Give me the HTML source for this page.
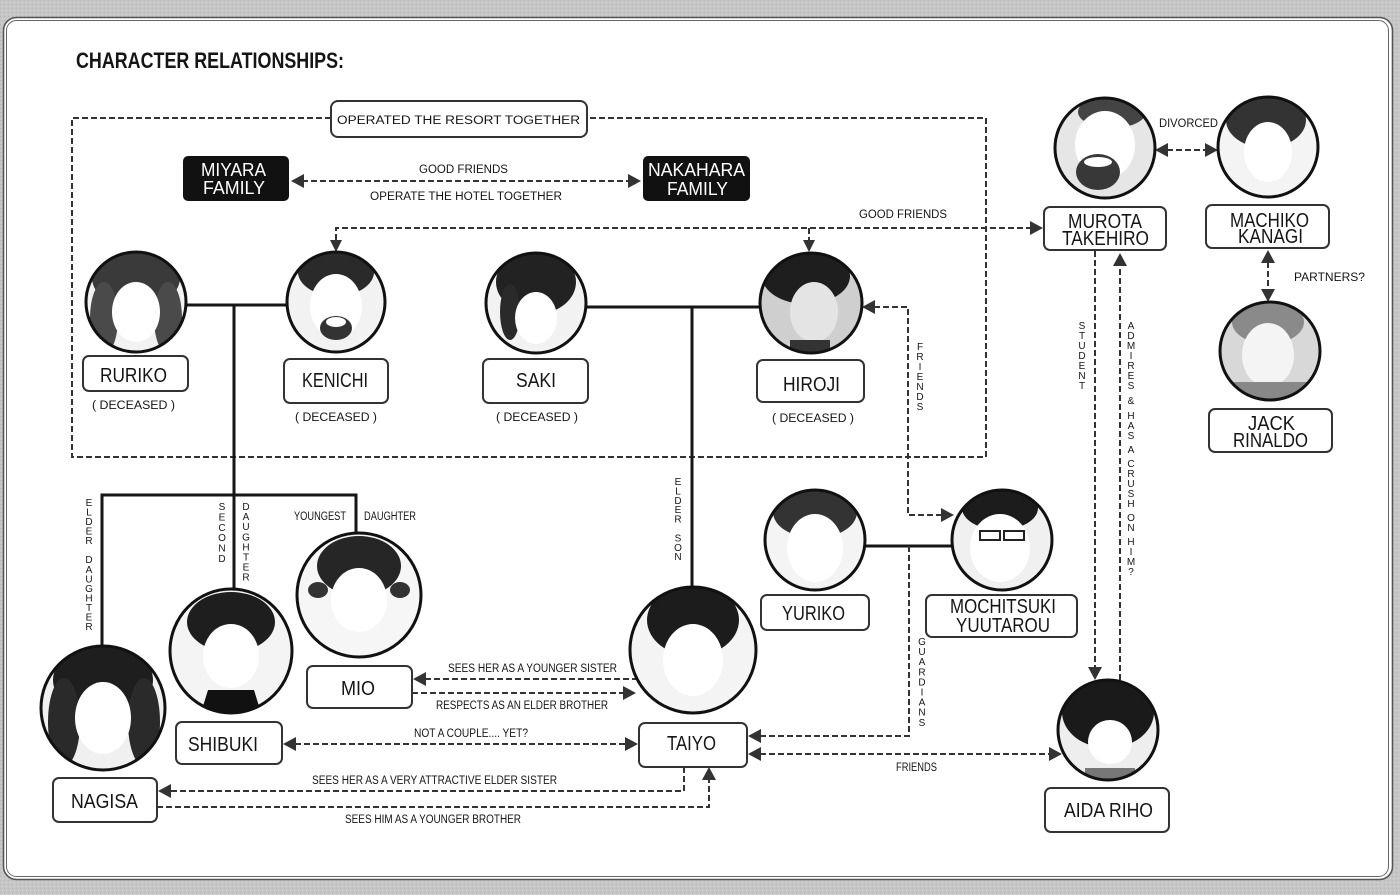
<!DOCTYPE html>
<html><head><meta charset="utf-8">
<style>
html,body{margin:0;padding:0;background:#c4c4c4;}
svg{display:block;}
text{font-family:"Liberation Sans",sans-serif;fill:#151515;}
.nm{font-size:20px;}
.sm{font-size:11.5px;}
.vt{font-size:10px;text-anchor:middle;}
.box{fill:#fff;stroke:#333;stroke-width:2;}
.dl{fill:none;stroke:#333;stroke-width:2;stroke-dasharray:6 3;}
.sl{fill:none;stroke:#161616;stroke-width:3;}
.ah{fill:#333;}
.pc{fill:none;stroke:#111;stroke-width:3;}
</style></head>
<body>
<svg width="1400" height="895" viewBox="0 0 1400 895" xmlns="http://www.w3.org/2000/svg">
<defs>
<pattern id="nz" width="4" height="4" patternUnits="userSpaceOnUse">
<rect width="4" height="4" fill="#c6c6c6"/><rect x="0" y="0" width="1" height="1" fill="#b4b4b4"/><rect x="2" y="2" width="1" height="1" fill="#d4d4d4"/>
</pattern>
<clipPath id="c1"><ellipse cx="136" cy="302" rx="50" ry="50"/></clipPath>
<clipPath id="c2"><ellipse cx="336" cy="302" rx="49" ry="50"/></clipPath>
<clipPath id="c3"><ellipse cx="536" cy="303" rx="50" ry="50"/></clipPath>
<clipPath id="c4"><ellipse cx="811" cy="303" rx="51" ry="50"/></clipPath>
<clipPath id="c5"><ellipse cx="1105" cy="148" rx="50" ry="50"/></clipPath>
<clipPath id="c6"><ellipse cx="1268" cy="147" rx="50" ry="50"/></clipPath>
<clipPath id="c7"><ellipse cx="1270" cy="351" rx="50" ry="49"/></clipPath>
<clipPath id="c8"><ellipse cx="815" cy="540" rx="50" ry="50"/></clipPath>
<clipPath id="c9"><ellipse cx="1002" cy="540" rx="50" ry="50"/></clipPath>
<clipPath id="c10"><ellipse cx="1108" cy="730" rx="50" ry="50"/></clipPath>
<clipPath id="c11"><ellipse cx="693" cy="650" rx="63" ry="63"/></clipPath>
<clipPath id="c12"><ellipse cx="103" cy="708" rx="62" ry="62"/></clipPath>
<clipPath id="c13"><ellipse cx="231" cy="651" rx="61" ry="62"/></clipPath>
<clipPath id="c14"><ellipse cx="359" cy="595" rx="62" ry="62"/></clipPath>
</defs>

<!-- background & panel -->
<rect width="1400" height="895" fill="url(#nz)"/>
<rect x="3.5" y="17.5" width="1389" height="862" rx="13" fill="#fff" stroke="#555" stroke-width="1.6"/>
<rect x="6.5" y="20.5" width="1382" height="856" rx="10" fill="none" stroke="#666" stroke-width="1"/>

<!-- title -->
<text x="76" y="68" font-size="22" font-weight="bold" textLength="268" lengthAdjust="spacingAndGlyphs">CHARACTER RELATIONSHIPS:</text>

<!-- resort dashed rect -->
<path class="dl" d="M331,118 H72 V457 H986 V118 H587"/>
<rect class="box" x="331" y="101" width="256" height="36" rx="7"/>
<text class="sm" x="337" y="124" font-size="14.5" textLength="243" lengthAdjust="spacingAndGlyphs">OPERATED THE RESORT TOGETHER</text>

<!-- families -->
<rect x="183" y="156" width="106" height="45" rx="5" fill="#111"/>
<text x="201" y="176" font-size="18.5" style="fill:#fff" textLength="65" lengthAdjust="spacingAndGlyphs">MIYARA</text>
<text x="203" y="194" font-size="18.5" style="fill:#fff" textLength="62" lengthAdjust="spacingAndGlyphs">FAMILY</text>
<rect x="643" y="156" width="107" height="45" rx="5" fill="#111"/>
<text x="648" y="176" font-size="18.5" style="fill:#fff" textLength="97" lengthAdjust="spacingAndGlyphs">NAKAHARA</text>
<text x="667" y="195" font-size="18.5" style="fill:#fff" textLength="61" lengthAdjust="spacingAndGlyphs">FAMILY</text>
<line class="dl" x1="302" y1="181" x2="630" y2="181"/>
<polygon class="ah" points="291,181 304,174 304,188"/>
<polygon class="ah" points="641,181 628,174 628,188"/>
<text class="sm" x="419" y="173" textLength="89" lengthAdjust="spacingAndGlyphs">GOOD FRIENDS</text>
<text class="sm" x="370" y="200" textLength="192" lengthAdjust="spacingAndGlyphs">OPERATE THE HOTEL TOGETHER</text>

<!-- good friends top line -->
<path class="dl" d="M336,240 V228 H1031"/>
<path class="dl" d="M809,228 V240"/>
<polygon class="ah" points="336,252 330,240 342,240"/>
<polygon class="ah" points="809,252 803,240 815,240"/>
<polygon class="ah" points="1043,228 1030,221 1030,235"/>
<text class="sm" x="859" y="218" textLength="88" lengthAdjust="spacingAndGlyphs">GOOD FRIENDS</text>

<!-- solid family lines -->
<path class="sl" d="M186,305 H287"/>
<path class="sl" d="M234,305 V589"/>
<path class="sl" d="M102,646 V495 H356 V533"/>
<path class="sl" d="M586,307 H760"/>
<path class="sl" d="M692,307 V587"/>
<path class="sl" d="M866,546 H952"/>

<!-- Hiroji - Mochitsuki friends -->
<path class="dl" d="M874,307 H908 V515 H942"/>
<polygon class="ah" points="862,307 875,300 875,314"/>
<polygon class="ah" points="954,515 941,508 941,522"/>

<!-- guardians -->
<path class="dl" d="M909,546 V736 H760"/>
<polygon class="ah" points="748,736 761,729 761,743"/>
<!-- friends taiyo-aida -->
<line class="dl" x1="760" y1="754" x2="1050" y2="754"/>
<polygon class="ah" points="748,754 761,747 761,761"/>
<polygon class="ah" points="1062,754 1049,747 1049,761"/>
<text class="sm" x="896" y="771" font-size="10.5" textLength="41" lengthAdjust="spacingAndGlyphs">FRIENDS</text>

<!-- student / admires -->
<line class="dl" x1="1095" y1="251" x2="1095" y2="668"/>
<polygon class="ah" points="1095,680 1088,667 1102,667"/>
<line class="dl" x1="1120" y1="680" x2="1120" y2="265"/>
<polygon class="ah" points="1120,253 1113,266 1127,266"/>

<!-- divorced -->
<line class="dl" x1="1167" y1="150" x2="1206" y2="150"/>
<polygon class="ah" points="1155,150 1168,143 1168,157"/>
<polygon class="ah" points="1218,150 1205,143 1205,157"/>
<text class="sm" x="1159" y="127" textLength="59" lengthAdjust="spacingAndGlyphs">DIVORCED</text>

<!-- partners -->
<line class="dl" x1="1268" y1="262" x2="1268" y2="290"/>
<polygon class="ah" points="1268,250 1261,263 1275,263"/>
<polygon class="ah" points="1268,302 1261,289 1275,289"/>
<text class="sm" x="1294" y="281" textLength="71" lengthAdjust="spacingAndGlyphs">PARTNERS?</text>

<!-- Mio - Taiyo -->
<line class="dl" x1="425" y1="679" x2="636" y2="679"/>
<polygon class="ah" points="413,679 426,672 426,686"/>
<line class="dl" x1="412" y1="693" x2="624" y2="693"/>
<polygon class="ah" points="636,693 623,686 623,700"/>
<text class="sm" x="448" y="672" textLength="169" lengthAdjust="spacingAndGlyphs">SEES HER AS A YOUNGER SISTER</text>
<text class="sm" x="436" y="709" textLength="172" lengthAdjust="spacingAndGlyphs">RESPECTS AS AN ELDER BROTHER</text>

<!-- Shibuki - Taiyo -->
<line class="dl" x1="295" y1="744" x2="626" y2="744"/>
<polygon class="ah" points="283,744 296,737 296,751"/>
<polygon class="ah" points="638,744 625,737 625,751"/>
<text class="sm" x="414" y="737" textLength="114" lengthAdjust="spacingAndGlyphs">NOT A COUPLE.... YET?</text>

<!-- Taiyo - Nagisa -->
<path class="dl" d="M684,767 V791 H170"/>
<polygon class="ah" points="158,791 171,784 171,798"/>
<path class="dl" d="M157,807 H709 V779"/>
<polygon class="ah" points="709,767 702,780 716,780"/>
<text class="sm" x="312" y="784" textLength="245" lengthAdjust="spacingAndGlyphs">SEES HER AS A VERY ATTRACTIVE ELDER SISTER</text>
<text class="sm" x="345" y="823" textLength="176" lengthAdjust="spacingAndGlyphs">SEES HIM AS A YOUNGER BROTHER</text>

<!-- youngest daughter -->
<text class="sm" x="294" y="520" textLength="52" lengthAdjust="spacingAndGlyphs">YOUNGEST</text>
<text class="sm" x="364" y="520" textLength="52" lengthAdjust="spacingAndGlyphs">DAUGHTER</text>

<!-- vertical labels -->
<text class="vt"><tspan x="89" y="506">E</tspan><tspan x="89" y="515.5">L</tspan><tspan x="89" y="525.1">D</tspan><tspan x="89" y="534.6">E</tspan><tspan x="89" y="544.2">R</tspan><tspan x="89" y="563.2">D</tspan><tspan x="89" y="572.8">A</tspan><tspan x="89" y="582.3">U</tspan><tspan x="89" y="591.9">G</tspan><tspan x="89" y="601.4">H</tspan><tspan x="89" y="610.9">T</tspan><tspan x="89" y="620.5">E</tspan><tspan x="89" y="630">R</tspan></text>
<text class="vt"><tspan x="222" y="510">S</tspan><tspan x="222" y="520.4">E</tspan><tspan x="222" y="530.8">C</tspan><tspan x="222" y="541.2">O</tspan><tspan x="222" y="551.6">N</tspan><tspan x="222" y="562">D</tspan></text>
<text class="vt"><tspan x="246" y="510">D</tspan><tspan x="246" y="520.1">A</tspan><tspan x="246" y="530.2">U</tspan><tspan x="246" y="540.3">G</tspan><tspan x="246" y="550.4">H</tspan><tspan x="246" y="560.5">T</tspan><tspan x="246" y="570.6">E</tspan><tspan x="246" y="580.7">R</tspan></text>
<text class="vt"><tspan x="678" y="485">E</tspan><tspan x="678" y="494.4">L</tspan><tspan x="678" y="503.8">D</tspan><tspan x="678" y="513.2">E</tspan><tspan x="678" y="522.6">R</tspan><tspan x="678" y="541.4">S</tspan><tspan x="678" y="550.8">O</tspan><tspan x="678" y="560.2">N</tspan></text>
<text class="vt"><tspan x="920" y="350">F</tspan><tspan x="920" y="360">R</tspan><tspan x="920" y="370">I</tspan><tspan x="920" y="380">E</tspan><tspan x="920" y="390">N</tspan><tspan x="920" y="400">D</tspan><tspan x="920" y="410">S</tspan></text>
<text class="vt"><tspan x="922" y="645">G</tspan><tspan x="922" y="655.1">U</tspan><tspan x="922" y="665.2">A</tspan><tspan x="922" y="675.3">R</tspan><tspan x="922" y="685.4">D</tspan><tspan x="922" y="695.5">I</tspan><tspan x="922" y="705.6">A</tspan><tspan x="922" y="715.7">N</tspan><tspan x="922" y="725.8">S</tspan></text>
<text class="vt"><tspan x="1082" y="329">S</tspan><tspan x="1082" y="339">T</tspan><tspan x="1082" y="349">U</tspan><tspan x="1082" y="359">D</tspan><tspan x="1082" y="369">E</tspan><tspan x="1082" y="379">N</tspan><tspan x="1082" y="389">T</tspan></text>
<text class="vt"><tspan x="1131" y="329">A</tspan><tspan x="1131" y="339">D</tspan><tspan x="1131" y="349">M</tspan><tspan x="1131" y="359">I</tspan><tspan x="1131" y="369">R</tspan><tspan x="1131" y="379">E</tspan><tspan x="1131" y="389">S</tspan><tspan x="1131" y="404">&amp;</tspan><tspan x="1131" y="419">H</tspan><tspan x="1131" y="429">A</tspan><tspan x="1131" y="439">S</tspan><tspan x="1131" y="453">A</tspan><tspan x="1131" y="467">C</tspan><tspan x="1131" y="477">R</tspan><tspan x="1131" y="487">U</tspan><tspan x="1131" y="497">S</tspan><tspan x="1131" y="507">H</tspan><tspan x="1131" y="521">O</tspan><tspan x="1131" y="531">N</tspan><tspan x="1131" y="545">H</tspan><tspan x="1131" y="555">I</tspan><tspan x="1131" y="565">M</tspan><tspan x="1131" y="575">?</tspan></text>

<!-- portraits -->
<g clip-path="url(#c1)"><ellipse cx="136" cy="302" rx="50" ry="50" fill="#f2f2f2"/><ellipse cx="136" cy="278" rx="44" ry="30" fill="#3a3a3a"/><ellipse cx="104" cy="318" rx="14" ry="36" fill="#4a4a4a"/><ellipse cx="168" cy="318" rx="14" ry="36" fill="#4a4a4a"/><ellipse cx="136" cy="312" rx="24" ry="30" fill="#fff"/></g>
<ellipse class="pc" cx="136" cy="302" rx="50" ry="50"/>
<g clip-path="url(#c2)"><ellipse cx="336" cy="302" rx="50" ry="50" fill="#f2f2f2"/><ellipse cx="336" cy="272" rx="38" ry="24" fill="#2a2a2a"/><ellipse cx="336" cy="306" rx="26" ry="32" fill="#fff"/><ellipse cx="336" cy="328" rx="16" ry="12" fill="#333"/><ellipse cx="336" cy="322" rx="10" ry="5" fill="#fff"/></g>
<ellipse class="pc" cx="336" cy="302" rx="49" ry="50"/>
<g clip-path="url(#c3)"><ellipse cx="536" cy="303" rx="50" ry="50" fill="#f2f2f2"/><ellipse cx="536" cy="282" rx="40" ry="32" fill="#222"/><ellipse cx="510" cy="312" rx="10" ry="28" fill="#2a2a2a"/><ellipse cx="536" cy="318" rx="21" ry="26" fill="#fff"/></g>
<ellipse class="pc" cx="536" cy="303" rx="50" ry="50"/>
<g clip-path="url(#c4)"><ellipse cx="811" cy="303" rx="51" ry="50" fill="#cfcfcf"/><ellipse cx="806" cy="276" rx="44" ry="28" fill="#1e1e1e"/><ellipse cx="814" cy="312" rx="24" ry="30" fill="#e4e4e4"/><rect x="790" y="340" width="40" height="20" fill="#333"/></g>
<ellipse class="pc" cx="811" cy="303" rx="51" ry="50"/>
<g clip-path="url(#c5)"><ellipse cx="1105" cy="148" rx="50" ry="50" fill="#e6e6e6"/><ellipse cx="1112" cy="112" rx="34" ry="16" fill="#444"/><ellipse cx="1105" cy="145" rx="30" ry="34" fill="#fff"/><ellipse cx="1098" cy="172" rx="22" ry="18" fill="#383838"/><ellipse cx="1098" cy="162" rx="14" ry="5" fill="#fff"/></g>
<ellipse class="pc" cx="1105" cy="148" rx="50" ry="50"/>
<g clip-path="url(#c6)"><ellipse cx="1268" cy="147" rx="50" ry="50" fill="#f4f4f4"/><ellipse cx="1266" cy="120" rx="40" ry="28" fill="#333"/><ellipse cx="1268" cy="152" rx="24" ry="30" fill="#fff"/></g>
<ellipse class="pc" cx="1268" cy="147" rx="50" ry="50"/>
<g clip-path="url(#c7)"><ellipse cx="1270" cy="351" rx="50" ry="49" fill="#d8d8d8"/><ellipse cx="1268" cy="322" rx="36" ry="22" fill="#8a8a8a"/><ellipse cx="1268" cy="355" rx="26" ry="32" fill="#f4f4f4"/><rect x="1230" y="382" width="80" height="20" fill="#888"/></g>
<ellipse class="pc" cx="1270" cy="351" rx="50" ry="49"/>
<g clip-path="url(#c8)"><ellipse cx="815" cy="540" rx="50" ry="50" fill="#f4f4f4"/><ellipse cx="815" cy="512" rx="42" ry="26" fill="#333"/><ellipse cx="815" cy="548" rx="28" ry="34" fill="#fff"/></g>
<ellipse class="pc" cx="815" cy="540" rx="50" ry="50"/>
<g clip-path="url(#c9)"><ellipse cx="1002" cy="540" rx="50" ry="50" fill="#f0f0f0"/><ellipse cx="1000" cy="508" rx="38" ry="22" fill="#1c1c1c"/><ellipse cx="1000" cy="548" rx="30" ry="34" fill="#fff"/><rect x="980" y="531" width="20" height="9" fill="none" stroke="#222" stroke-width="2"/><rect x="1004" y="531" width="20" height="9" fill="none" stroke="#222" stroke-width="2"/></g>
<ellipse class="pc" cx="1002" cy="540" rx="50" ry="50"/>
<g clip-path="url(#c10)"><ellipse cx="1108" cy="730" rx="50" ry="50" fill="#eee"/><ellipse cx="1108" cy="712" rx="46" ry="36" fill="#1a1a1a"/><ellipse cx="1110" cy="742" rx="22" ry="22" fill="#fff"/><rect x="1085" y="768" width="50" height="14" fill="#777"/></g>
<ellipse class="pc" cx="1108" cy="730" rx="50" ry="50"/>
<g clip-path="url(#c11)"><ellipse cx="693" cy="650" rx="63" ry="63" fill="#f4f4f4"/><ellipse cx="693" cy="620" rx="46" ry="36" fill="#1c1c1c"/><ellipse cx="693" cy="660" rx="30" ry="36" fill="#fff"/></g>
<ellipse class="pc" cx="693" cy="650" rx="63" ry="63"/>
<g clip-path="url(#c12)"><ellipse cx="103" cy="708" rx="62" ry="62" fill="#f0f0f0"/><ellipse cx="103" cy="680" rx="50" ry="36" fill="#1e1e1e"/><ellipse cx="64" cy="722" rx="16" ry="44" fill="#2a2a2a"/><ellipse cx="144" cy="722" rx="16" ry="44" fill="#2a2a2a"/><ellipse cx="103" cy="718" rx="28" ry="36" fill="#fff"/></g>
<ellipse class="pc" cx="103" cy="708" rx="62" ry="62"/>
<g clip-path="url(#c13)"><ellipse cx="231" cy="651" rx="61" ry="62" fill="#f4f4f4"/><ellipse cx="231" cy="622" rx="44" ry="30" fill="#1e1e1e"/><ellipse cx="231" cy="656" rx="28" ry="32" fill="#fff"/><path d="M208,690 L254,690 L262,716 L200,716 Z" fill="#111"/></g>
<ellipse class="pc" cx="231" cy="651" rx="61" ry="62"/>
<g clip-path="url(#c14)"><ellipse cx="359" cy="595" rx="62" ry="62" fill="#f6f6f6"/><ellipse cx="359" cy="566" rx="42" ry="30" fill="#262626"/><ellipse cx="359" cy="600" rx="28" ry="32" fill="#fff"/><ellipse cx="318" cy="590" rx="10" ry="8" fill="#333"/><ellipse cx="400" cy="590" rx="10" ry="8" fill="#333"/></g>
<ellipse class="pc" cx="359" cy="595" rx="62" ry="62"/>

<!-- name boxes -->
<rect class="box" x="83" y="356" width="105" height="35" rx="6"/>
<text class="nm" x="100" y="382" textLength="67" lengthAdjust="spacingAndGlyphs">RURIKO</text>
<text class="sm" x="92" y="409" textLength="83" lengthAdjust="spacingAndGlyphs">( DECEASED )</text>

<rect class="box" x="284" y="359" width="104" height="44" rx="6"/>
<text class="nm" x="302" y="387" textLength="66" lengthAdjust="spacingAndGlyphs">KENICHI</text>
<text class="sm" x="295" y="421" textLength="82" lengthAdjust="spacingAndGlyphs">( DECEASED )</text>

<rect class="box" x="483" y="359" width="105" height="44" rx="6"/>
<text class="nm" x="516" y="387" textLength="40" lengthAdjust="spacingAndGlyphs">SAKI</text>
<text class="sm" x="496" y="421" textLength="82" lengthAdjust="spacingAndGlyphs">( DECEASED )</text>

<rect class="box" x="757" y="360" width="107" height="42" rx="6"/>
<text class="nm" x="783" y="391" textLength="57" lengthAdjust="spacingAndGlyphs">HIROJI</text>
<text class="sm" x="772" y="422" textLength="82" lengthAdjust="spacingAndGlyphs">( DECEASED )</text>

<rect class="box" x="1044" y="207" width="122" height="43" rx="6"/>
<text class="nm" x="1068" y="228" textLength="74" lengthAdjust="spacingAndGlyphs">MUROTA</text>
<text class="nm" x="1062" y="245" textLength="87" lengthAdjust="spacingAndGlyphs">TAKEHIRO</text>

<rect class="box" x="1206" y="205" width="123" height="43" rx="6"/>
<text class="nm" x="1230" y="227" textLength="79" lengthAdjust="spacingAndGlyphs">MACHIKO</text>
<text class="nm" x="1238" y="243" textLength="65" lengthAdjust="spacingAndGlyphs">KANAGI</text>

<rect class="box" x="1209" y="409" width="123" height="43" rx="6"/>
<text class="nm" x="1248" y="430" textLength="47" lengthAdjust="spacingAndGlyphs">JACK</text>
<text class="nm" x="1233" y="447" textLength="75" lengthAdjust="spacingAndGlyphs">RINALDO</text>

<rect class="box" x="761" y="595" width="108" height="35" rx="6"/>
<text class="nm" x="782" y="620" textLength="63" lengthAdjust="spacingAndGlyphs">YURIKO</text>

<rect class="box" x="926" y="595" width="151" height="42" rx="6"/>
<text class="nm" x="950" y="613" textLength="106" lengthAdjust="spacingAndGlyphs">MOCHITSUKI</text>
<text class="nm" x="956" y="632" textLength="94" lengthAdjust="spacingAndGlyphs">YUUTAROU</text>

<rect class="box" x="1045" y="788" width="124" height="44" rx="6"/>
<text class="nm" x="1064" y="817" textLength="89" lengthAdjust="spacingAndGlyphs">AIDA RIHO</text>

<rect class="box" x="639" y="723" width="108" height="44" rx="6"/>
<text class="nm" x="667" y="750" textLength="49" lengthAdjust="spacingAndGlyphs">TAIYO</text>

<rect class="box" x="307" y="666" width="105" height="42" rx="6"/>
<text class="nm" x="341" y="695" textLength="34" lengthAdjust="spacingAndGlyphs">MIO</text>

<rect class="box" x="176" y="722" width="106" height="42" rx="6"/>
<text class="nm" x="188" y="751" textLength="70" lengthAdjust="spacingAndGlyphs">SHIBUKI</text>

<rect class="box" x="53" y="778" width="104" height="44" rx="6"/>
<text class="nm" x="71" y="808" textLength="67" lengthAdjust="spacingAndGlyphs">NAGISA</text>
</svg>
</body></html>
